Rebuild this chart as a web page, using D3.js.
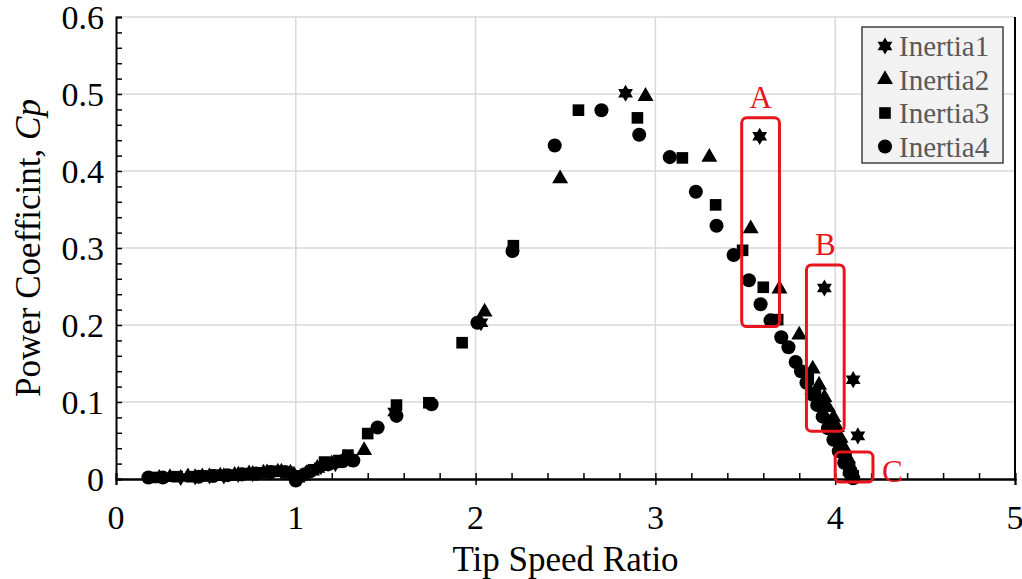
<!DOCTYPE html>
<html>
<head>
<meta charset="utf-8">
<script src="https://cdn.jsdelivr.net/npm/d3@7"></script>
<style>
  body { margin: 0; background: #fff; }
  text { font-family: "Liberation Serif", "Times New Roman", serif; }
</style>
</head>
<body>
<div id="chart"></div>
<script>
// data: [tip speed ratio, Cp]
const inertia1 = [
  [0.36, 0.002], [0.44, 0.003], [0.52, 0.004], [0.60, 0.004], [0.68, 0.006], [0.76, 0.007],
  [0.84, 0.009], [0.92, 0.010], [0.99, 0.006], [1.06, 0.008], [1.14, 0.016], [1.22, 0.020],
  [1.30, 0.026], [1.55, 0.087], [2.03, 0.203], [2.834, 0.501], [3.58, 0.445], [3.94, 0.248],
  [4.10, 0.129], [4.126, 0.056], [4.06, 0.022], [4.08, 0.010], [4.09, 0.003]
]
const inertia2 = [
  [0.24, 0.001], [0.30, 0.002], [0.40, 0.003], [0.48, 0.003], [0.58, 0.004], [0.66, 0.005],
  [0.74, 0.007], [0.82, 0.008], [0.90, 0.009], [0.97, 0.008], [1.04, 0.004], [1.12, 0.014],
  [1.20, 0.020], [1.27, 0.027], [1.38, 0.037], [2.05, 0.217], [2.47, 0.390], [2.945, 0.497],
  [3.30, 0.418], [3.53, 0.325], [3.69, 0.247], [3.80, 0.187], [3.875, 0.143], [3.91, 0.122],
  [3.94, 0.106], [3.96, 0.093], [3.99, 0.080], [4.01, 0.067], [4.03, 0.053], [4.05, 0.040],
  [4.07, 0.027], [4.09, 0.014], [4.10, 0.005]
]
const inertia3 = [
  [0.20, 0.002], [0.34, 0.003], [0.42, 0.003], [0.50, 0.004], [0.56, 0.005], [0.64, 0.005],
  [0.72, 0.007], [0.80, 0.008], [0.88, 0.010], [0.95, 0.009], [1.02, 0.003], [1.10, 0.012],
  [1.16, 0.022], [1.24, 0.024], [1.29, 0.031], [1.40, 0.059], [1.56, 0.096], [1.74, 0.099],
  [1.925, 0.177], [2.21, 0.303], [2.572, 0.479], [2.90, 0.469], [3.15, 0.417], [3.335, 0.356],
  [3.485, 0.297], [3.60, 0.249], [3.68, 0.207], [3.85, 0.130], [3.89, 0.112], [3.93, 0.095],
  [3.97, 0.076], [4.00, 0.060], [4.03, 0.044], [4.06, 0.028], [4.08, 0.015], [4.10, 0.004]
]
const inertia4 = [
  [0.18, 0.002], [0.26, 0.002], [0.46, 0.003], [0.54, 0.004], [0.62, 0.005], [0.70, 0.006],
  [0.78, 0.007], [0.86, 0.009], [0.94, 0.009], [1.00, -0.002], [1.08, 0.010], [1.18, 0.019],
  [1.26, 0.023], [1.32, 0.024], [1.455, 0.067], [1.56, 0.082], [1.755, 0.097], [2.01, 0.203],
  [2.205, 0.296], [2.44, 0.433], [2.70, 0.479], [2.91, 0.447], [3.08, 0.418], [3.225, 0.373],
  [3.34, 0.329], [3.435, 0.291], [3.52, 0.258], [3.585, 0.227], [3.64, 0.206], [3.70, 0.184],
  [3.74, 0.171], [3.78, 0.152], [3.81, 0.140], [3.84, 0.125], [3.87, 0.110], [3.90, 0.096],
  [3.93, 0.081], [3.96, 0.066], [3.99, 0.051], [4.02, 0.036], [4.05, 0.021], [4.08, 0.008],
  [4.10, 0.001]
]
const seriesNames = ["Inertia1", "Inertia2", "Inertia3", "Inertia4"]
const xTicks = [0, 1, 2, 3, 4, 5]
const yTicks = [0, 0.1, 0.2, 0.3, 0.4, 0.5, 0.6]
// highlight boxes: [x0, x1, y0, y1]
const boxNames = ["A", "B", "C"]
const boxExtents = [[3.48, 3.69, 0.198, 0.469], [3.84, 4.05, 0.062, 0.278], [4.0, 4.21, -0.004, 0.035]]

const W = 1022, H = 579
const margin = {top: 17, right: 7, bottom: 100, left: 116}

const svg = d3.select("#chart").append("svg")
  .attr("width", W).attr("height", H)

const x = d3.scaleLinear().domain([0, 5]).range([margin.left, W - margin.right])
const y = d3.scaleLinear().domain([0, 0.6]).range([H - margin.bottom, margin.top])

// gridlines
svg.append("g").selectAll("line").data(xTicks.slice(1))
  .join("line")
    .attr("x1", d => x(d)).attr("x2", d => x(d))
    .attr("y1", y(0)).attr("y2", y(0.6))
    .attr("stroke", "#d9d9d9").attr("stroke-width", 1.5)
svg.append("g").selectAll("line").data(yTicks.slice(1))
  .join("line")
    .attr("x1", x(0)).attr("x2", x(5))
    .attr("y1", d => y(d)).attr("y2", d => y(d))
    .attr("stroke", "#d9d9d9").attr("stroke-width", 1.5)

// axes
const xAxis = svg.append("g").attr("transform", `translate(0,${y(0)})`)
xAxis.call(d3.axisBottom(x).tickValues(d3.range(0, 5.01, 0.2)).tickSize(-6).tickFormat(""))
xAxis.append("g").call(d3.axisBottom(x).tickValues(xTicks).tickSize(6).tickFormat(""))
xAxis.selectAll("path,line").attr("stroke", "#000").attr("stroke-width", 1.5)
xAxis.selectAll(".domain").attr("stroke-width", 2)
xAxis.selectAll(".xlab").data(xTicks).join("text")
  .attr("x", d => x(d)).attr("y", 50)
  .attr("text-anchor", "middle")
  .style("font-size", "34px").attr("fill", "#000")
  .text(d => d)

const yAxis = svg.append("g").attr("transform", `translate(${x(0)},0)`)
yAxis.call(d3.axisLeft(y).tickValues(d3.range(0, 0.601, 0.02)).tickSize(-6).tickFormat(""))
yAxis.selectAll("path,line").attr("stroke", "#000").attr("stroke-width", 1.5)
yAxis.selectAll(".domain").attr("stroke-width", 2)
yAxis.selectAll(".ylab").data(yTicks).join("text")
  .attr("x", -12).attr("y", d => y(d) + 12)
  .attr("text-anchor", "end")
  .style("font-size", "34px").attr("fill", "#000")
  .text(d => d === 0 ? "0" : d3.format(".1f")(d))

// right frame line
svg.append("line")
  .attr("x1", x(5)).attr("x2", x(5)).attr("y1", y(0)).attr("y2", y(0.6))
  .attr("stroke", "#000").attr("stroke-width", 2)

// axis titles
svg.append("text")
  .attr("x", (x(0) + x(5)) / 2).attr("y", 571)
  .attr("text-anchor", "middle").style("font-size", "35px")
  .text("Tip Speed Ratio")
const yt = svg.append("text")
  .attr("transform", `translate(40,${(y(0) + y(0.6)) / 2}) rotate(-90)`)
  .attr("text-anchor", "middle").style("font-size", "35px")
yt.append("tspan").text("Power Coefficint, ")
yt.append("tspan").style("font-style", "italic").text("Cp")

// six-pointed star symbol
const star6 = {
  draw(context, size) {
    const r = Math.sqrt(size) * 0.62
    for (let k = 0; k < 2; k++) {
      for (let i = 0; i < 3; i++) {
        const a = (k * 60 + i * 120 - 90) * Math.PI / 180
        if (i === 0) context.moveTo(r * Math.cos(a), r * Math.sin(a))
        else context.lineTo(r * Math.cos(a), r * Math.sin(a))
      }
      context.closePath()
    }
  }
}
const symbols = [
  d3.symbol(star6, 190),
  d3.symbol(d3.symbolTriangle, 110),
  d3.symbol(d3.symbolSquare, 135),
  d3.symbol(d3.symbolCircle, 155)
]
const allSeries = [inertia1, inertia2, inertia3, inertia4]

allSeries.forEach((data, i) => {
  svg.append("g").selectAll("path")
    .data(data)
    .join("path")
      .attr("d", symbols[i])
      .attr("transform", d => `translate(${x(d[0])},${y(d[1])})`)
      .attr("fill", "#000")
})

// red highlight boxes
const boxes = svg.append("g")
boxes.selectAll("rect").data(boxExtents).join("rect")
  .attr("x", d => x(d[0])).attr("width", d => x(d[1]) - x(d[0]))
  .attr("y", d => y(d[3])).attr("height", d => y(d[2]) - y(d[3]))
  .attr("rx", 5)
  .attr("fill", "none").attr("stroke", "#e8141c").attr("stroke-width", 3)
boxes.selectAll("text").data(boxExtents).join("text")
  .attr("x", (d, i) => i === 2 ? x(d[1]) + 9 : (x(d[0]) + x(d[1])) / 2)
  .attr("y", (d, i) => i === 2 ? y(d[2]) : y(d[3]) - 10)
  .attr("text-anchor", (d, i) => i === 2 ? "start" : "middle")
  .style("font-size", "31px").attr("fill", "#e8141c")
  .text((d, i) => boxNames[i])

// legend
const legend = svg.append("g").attr("transform", "translate(862,27)")
legend.append("rect")
  .attr("width", 141).attr("height", 136)
  .attr("fill", "#f2f2f2").attr("stroke", "#404040").attr("stroke-width", 1.5)
seriesNames.forEach((name, i) => {
  const g = legend.append("g").attr("transform", `translate(0,${19 + i * 33.5})`)
  g.append("path").attr("d", symbols[i]).attr("transform", "translate(23,0)").attr("fill", "#000")
  g.append("text").attr("x", 37).attr("y", 10)
    .style("font-size", "29px").attr("fill", "#595959").text(name)
})
</script>
</body>
</html>
